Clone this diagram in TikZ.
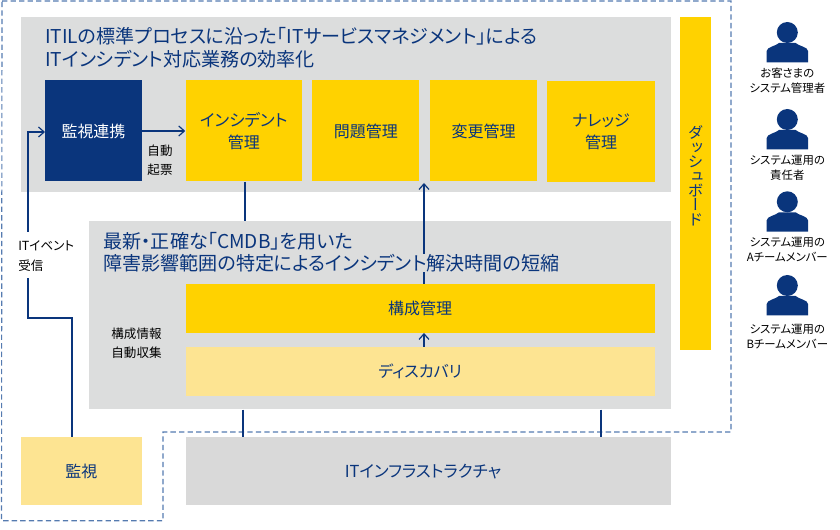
\documentclass[tikz,border=0pt]{standalone}
\usepackage{fontspec}
\setmainfont{Noto Sans CJK JP}[RawFeature={+palt}]
\newfontfamily\vertfont{Noto Sans CJK JP}[RawFeature={+vert}]
\usetikzlibrary{arrows.meta}
\definecolor{navy}{HTML}{0A357C}
\definecolor{ygold}{HTML}{FFD200}
\definecolor{ylight}{HTML}{FDE492}
\definecolor{panelgray}{HTML}{DCDDDD}
\definecolor{infragray}{HTML}{D9D9D9}
\definecolor{dashblue}{HTML}{557BB0}
\newcommand\dn[1]{\raisebox{-2.4pt}{#1}}
\newcommand\kana{\fontsize{12.4pt}{16.5pt}\selectfont}
\newcommand\pxbox[6]{% name, x0,y0,x1,y1, options+text given by next
  \pgfmathsetmacro\bw{(#4-#2)*0.75}\pgfmathsetmacro\bh{(#5-#3)*0.75}
  \node[minimum width=\bw pt,minimum height=\bh pt,#6] (#1) at ({(#2+#4)/2},{(#3+#5)/2})}
\tikzset{
  x=0.75pt,y=-0.75pt,
  panel/.style={fill=panelgray,inner sep=0pt},
  boxfont/.style={inner sep=0pt,align=center,font=\fontsize{12pt}{16.5pt}\selectfont},
  gold/.style={fill=ygold,text=navy,boxfont},
  pale/.style={fill=ylight,text=navy,boxfont},
  navybox/.style={fill=navy,text=white,boxfont},
  infra/.style={fill=infragray,text=navy,boxfont},
  headline/.style={anchor=west,inner sep=0pt,text=navy,font=\fontsize{14.3pt}{16pt}\selectfont},
  note/.style={inner sep=0pt,text=black,font=\fontsize{9.4pt}{14.6pt}\selectfont},
  staff/.style={inner sep=0pt,text=black,align=center,font=\fontsize{8.55pt}{11.2pt}\selectfont},
  link/.style={draw=navy,line width=0.95pt},
  linkarrow/.style={link,-{Straight Barb[length=4.2pt,width=7.5pt,line width=0.9pt]}},
  perimeter/.style={draw=dashblue,line width=0.85pt,dash pattern=on 4pt off 2.4pt},
}
\newcommand\personicon[2]{% name, top offset
  \begin{scope}[yshift={-0.75*(#2)*1pt}]
    \fill[navy] (787.3,32.5) circle[radius=10.5];
    \fill[navy] (766.7,62.3) -- (766.7,51) .. controls (766.7,47) and (776,46) .. (779,43) -- (795.6,43) .. controls (798.6,46) and (808,47) .. (808,51) -- (808,62.3) -- cycle;
  \end{scope}
}
\begin{document}
\begin{tikzpicture}
\useasboundingbox (0,0) rectangle (840,530);
% dashed perimeter
\coordinate (p1) at (2,1);
\coordinate (p2) at (731,1);
\coordinate (p3) at (731,432);
\coordinate (p4) at (163,432);
\coordinate (p5) at (163,520.7);
\coordinate (p6) at (1.5,520.7);
\draw[perimeter] (p1) -- (p2) -- (p3) -- (p4) -- (p5) -- (p6) -- cycle;

% panels
\pxbox{panelA}{20.5}{17.5}{670.7}{192}{panel} {};
\pxbox{panelB}{88.5}{221}{670.7}{409.3}{panel} {};

% connectors under boxes
\coordinate (evA) at (72,437.3);
\coordinate (evB) at (72,318);
\coordinate (evC) at (28,318);
\coordinate (evD) at (28,278);
\coordinate (evE) at (28,232);
\coordinate (evF) at (28,132);
\coordinate (evG) at (45,132);
\coordinate (cmA) at (424,284);
\coordinate (cmB) at (424,183);
\draw[link] (evA) -- (evB) -- (evC) -- (evD);
\draw[linkarrow] (evE) -- (evF) -- (evG);
\draw[linkarrow] (cmA) -- (cmB);

% boxes
\pxbox{renkei}{45}{80.5}{142}{181.5}{navybox} {\dn{監視連携}};
\pxbox{incident}{185.5}{80.5}{302}{181.5}{gold} {\dn{\kana インシデント}\\\dn{管理}};
\pxbox{problem}{312.3}{80.5}{419.3}{181.5}{gold} {\dn{問題管理}};
\pxbox{change}{430}{80.5}{537}{181.5}{gold} {\dn{変更管理}};
\pxbox{knowledge}{547.3}{81.3}{654.7}{182.3}{gold} {\dn{ナレッジ}\\\dn{管理}};
\pxbox{dash}{680}{17.5}{710.7}{350}{gold} {};
\node[inner sep=0pt,align=center,text=navy,font=\vertfont\fontsize{11.6pt}{10.8pt}\selectfont] (dashlabel) at (695.5,176) {ダ\\ッ\\シ\\ュ\\ボ\\ー\\ド};
\pxbox{config}{185.5}{284}{654.7}{332.7}{gold} {\dn{構成管理}};
\pxbox{discovery}{185.5}{347}{654.7}{396}{pale} {\dn{ディスカバリ}};
\pxbox{monitor}{20.5}{437.3}{142}{505.3}{pale} {\dn{監視}};
\pxbox{itinfra}{186}{437.3}{670.7}{505.3}{infra} {\dn{\kana ITインフラストラクチャ}\hspace*{8pt}};

% headlines
\node[headline] (h1) at (45,36) {ITILの標準プロセスに沿った「ITサービスマネジメント」による};
\node[headline] (h2) at (45,59) {ITインシデント対応業務の効率化};
\node[headline] (h3) at (103,241) {最新・正確な「CMDB」を用いた};
\node[headline,fill=panelgray] (h4) at (103,263) {障害影響範囲の特定によるインシデント解決時間の短縮};

% notes
\node[note,align=center] (n1) at (160,160.5) {自動\\起票};
\node[note,align=left,anchor=west] (n2) at (18,256) {ITイベント\\受信};
\node[note,align=center] (n3) at (136.5,343.5) {構成情報\\自動収集};

% other connectors
\draw[linkarrow] (renkei.east) -- (incident.west);
\draw[link] (incident.south -| 245,0) -- (panelB.north -| 245,0);
\draw[linkarrow] (discovery.north -| cmA) -- (config.south -| cmA);
\draw[link] (panelB.south -| 243,0) -- (itinfra.north -| 243,0);
\draw[link] (panelB.south -| 601,0) -- (itinfra.north -| 601,0);

% people
\personicon{a}{0}
\personicon{b}{87}
\personicon{c}{169.3}
\personicon{d}{253}
\node[staff] (s1) at (787.3,80.5) {お客さまの\\システム管理者};
\node[staff] (s2) at (787.3,167.5) {システム運用の\\責任者};
\node[staff] (s3) at (787.3,249.3) {システム運用の\\Aチームメンバー};
\node[staff] (s4) at (787.3,336.8) {システム運用の\\Bチームメンバー};
\end{tikzpicture}
\end{document}
